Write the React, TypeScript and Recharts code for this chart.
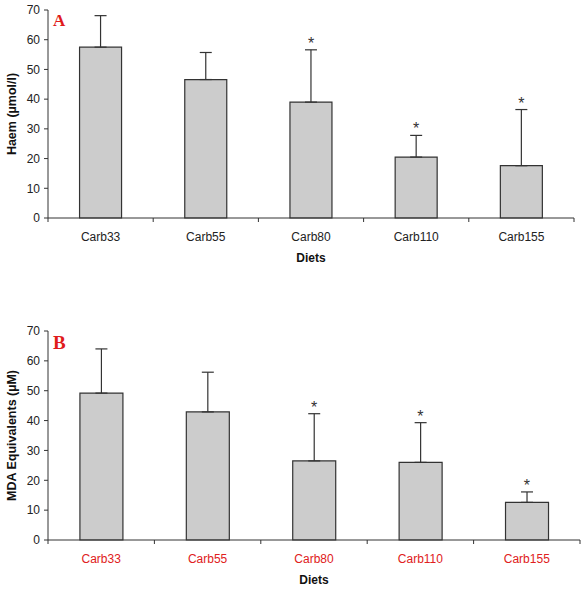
import React from 'react';
import { ComposedChart, Bar, Line, XAxis, YAxis, ErrorBar, Label } from 'recharts';

const diets = ['Carb33', 'Carb55', 'Carb80', 'Carb110', 'Carb155'];
const haemMean = [57.5, 46.6, 39.0, 20.5, 17.6];
const haemSD = [10.6, 9.1, 17.6, 7.3, 18.9];
const haemSig = [false, false, true, true, true];
const mdaMean = [49.2, 42.9, 26.5, 26.0, 12.6];
const mdaSD = [14.8, 13.3, 15.8, 13.3, 3.5];
const mdaSig = [false, false, true, true, true];
const yTicks = [0, 10, 20, 30, 40, 50, 60, 70];

const FONT = '"Liberation Sans", Arial, sans-serif';

function build(means: number[], sds: number[], sig: boolean[]) {
  return diets.map((d, i) => ({
    diet: d,
    mean: means[i],
    err: [0, sds[i]],
    top: means[i] + sds[i],
    sig: sig[i],
  }));
}

type PanelProps = {
  top: number;
  height: number;
  margin: { top: number; right: number; bottom: number; left: number };
  data: any[];
  yLabel: string;
  letter: string;
  letterSize: number;
  tickColor: string;
};

function Panel({ top, height, margin, data, yLabel, letter, letterSize, tickColor }: PanelProps) {
  const width = 587;
  const yAxisW = 48;
  const plotW = width - margin.left - margin.right - yAxisW;
  const bw = plotW / data.length;

  const XTick = (props: any) => {
    const { x, y, payload, index } = props;
    return (
      <g>
        <line x1={x - bw / 2} x2={x - bw / 2} y1={y} y2={y + 4} stroke="#333" />
        {index === data.length - 1 && (
          <line x1={x + bw / 2} x2={x + bw / 2} y1={y} y2={y + 4} stroke="#333" />
        )}
        <text x={x} y={y + 23} textAnchor="middle" fontSize={12} fill={tickColor} fontFamily={FONT}>
          {payload.value}
        </text>
      </g>
    );
  };

  const Star = (props: any) => {
    const { cx, cy, payload, index } = props;
    if (!payload || !payload.sig) return <g key={`s${index}`} />;
    return (
      <text key={`s${index}`} x={cx} y={cy - 1} textAnchor="middle" fontSize={16} fill="#333" fontFamily={FONT}>
        *
      </text>
    );
  };

  return (
    <div style={{ position: 'absolute', left: 0, top, width, height }}>
      <ComposedChart width={width} height={height} data={data} margin={margin} barCategoryGap="30%">
        <XAxis
          dataKey="diet"
          tickLine={false}
          tickSize={0}
          tickMargin={0}
          axisLine={{ stroke: '#333' }}
          tick={XTick}
          height={50}
          interval={0}
        >
          <Label
            content={(p: any) => {
              const vb = p.viewBox;
              return (
                <text x={vb.x + vb.width / 2} y={vb.y + 44} textAnchor="middle" fontSize={12} fontWeight="bold" fill="#111" fontFamily={FONT}>
                  Diets
                </text>
              );
            }}
          />
        </XAxis>
        <XAxis xAxisId="top" orientation="top" dataKey="diet" tick={false} tickLine={false} axisLine={{ stroke: '#aaa' }} height={0} />
        <YAxis
          domain={[0, 70]}
          ticks={yTicks}
          width={yAxisW}
          tickSize={4}
          tickMargin={4}
          tick={{ fontSize: 12, fill: '#222', fontFamily: FONT }}
          axisLine={{ stroke: '#333' }}
          tickLine={{ stroke: '#333' }}
        >
          <Label
            content={(p: any) => {
              const vb = p.viewBox;
              const cx = vb.x + 12;
              const cy = vb.y + vb.height / 2;
              return (
                <text x={cx} y={cy} transform={`rotate(-90 ${cx} ${cy})`} textAnchor="middle" dominantBaseline="central" fontSize={12.5} fontWeight="bold" fill="#111" fontFamily={FONT}>
                  {yLabel}
                </text>
              );
            }}
          />
        </YAxis>
        <YAxis yAxisId="right" orientation="right" domain={[0, 70]} tick={false} tickLine={false} axisLine={{ stroke: '#aaa' }} width={0} />
        <Bar dataKey="mean" fill="#cccccc" stroke="#333" strokeWidth={1.2} isAnimationActive={false}>
          <ErrorBar dataKey="err" direction="y" width={6} stroke="#333" strokeWidth={1.2} />
        </Bar>
        <Line dataKey="top" stroke="none" dot={Star} activeDot={false} isAnimationActive={false} legendType="none" />
      </ComposedChart>
      <div
        style={{
          position: 'absolute',
          left: margin.left + yAxisW + 5,
          top: margin.top + 2,
          color: '#e01b1b',
          fontFamily: '"Liberation Serif", "Times New Roman", serif',
          fontWeight: 'bold',
          fontSize: letterSize,
          lineHeight: 1,
        }}
      >
        {letter}
      </div>
    </div>
  );
}

export default function App() {
  const dataA = build(haemMean, haemSD, haemSig);
  const dataB = build(mdaMean, mdaSD, mdaSig);
  return (
    <div style={{ position: 'absolute', left: 0, top: 0, width: 587, height: 593, background: '#fff', fontFamily: FONT }}>
      <Panel
        top={0}
        height={280}
        margin={{ top: 10, right: 13, bottom: 12, left: 0 }}
        data={dataA}
        yLabel="Haem (µmol/l)"
        letter="A"
        letterSize={17}
        tickColor="#222"
      />
      <Panel
        top={300}
        height={293}
        margin={{ top: 31, right: 7, bottom: 3, left: 0 }}
        data={dataB}
        yLabel="MDA Equivalents (µM)"
        letter="B"
        letterSize={19}
        tickColor="#e02020"
      />
    </div>
  );
}
